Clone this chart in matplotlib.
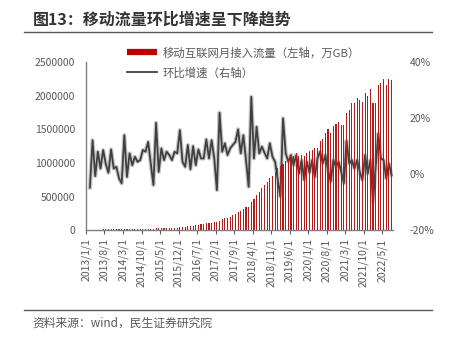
import numpy as np
import matplotlib
matplotlib.use("Agg")
import matplotlib.pyplot as plt
from matplotlib.lines import Line2D

plt.rcParams['font.family'] = ['Noto Sans CJK SC', 'DejaVu Sans']
plt.rcParams['axes.unicode_minus'] = False

# Monthly mobile internet access traffic (万GB), 2013/1 .. 2022/7
traffic = [
    8000, 8900, 8800, 9500, 9700, 10500, 10900, 11000, 11900, 12100,
    12400, 12200, 11800, 13400, 13300, 14300, 14700, 15600, 16300, 17100,
    18500, 20000, 22300, 23100, 22200, 26200, 26400, 28800, 30200, 32600,
    34000, 35000, 36500, 38000, 40000, 50000, 50000, 60000, 64000, 69000,
    74000, 84000, 89000, 89000, 99000, 99000, 109000, 124000, 124000, 139000,
    159000, 174000, 184000, 198000, 218000, 238000, 273000, 283000, 322000, 347000,
    347000, 422000, 456000, 521000, 570000, 620000, 670000, 712000, 782000, 811000,
    868000, 918000, 950000, 985000, 1030000, 1062000, 1096000, 1103000, 1141000, 1108000,
    1116000, 1106000, 1148000, 1171000, 1188000, 1222000, 1215000, 1324000, 1349000, 1448000,
    1498000, 1448000, 1548000, 1577000, 1612000, 1563000, 1563000, 1736000, 1786000, 1885000,
    1885000, 1959000, 1935000, 1910000, 2034000, 1994000, 2093000, 1885000, 1885000, 2158000,
    2192000, 2242000, 2158000, 2242000, 2232000,
]

# Month-on-month growth (%)
mom = [
    -4.8, 12.1, -0.7, 8.0, 2.0, 8.6, 3.6, 0.5, 8.8, 2.0,
    2.6, -1.5, -3.3, 13.9, -1.0, 7.4, 3.2, 6.2, 4.4, 5.0,
    8.6, 8.0, 11.5, 3.8, -3.9, 18.3, 0.8, 9.2, 5.0, 8.0,
    6.8, 5.0, 8.0, 7.4, 15.7, 4.4, 2.6, 10.4, 1.7, 10.0,
    3.2, 8.8, 5.6, 5.6, 12.4, 5.6, 12.1, 5.6, -5.7, 21.9,
    8.0, 11.0, 6.8, 9.2, 10.4, 11.5, 16.0, 7.4, 13.9, 5.0,
    -4.5, 27.6, 5.6, 16.9, 7.4, 9.8, 7.6, 5.6, 11.0, 6.2,
    4.4, -2.1, -8.1, 19.9, 7.4, 4.4, 6.8, 3.2, 6.8, 0.2,
    5.0, -2.1, 4.4, 0.5, 5.0, -1.0, 5.6, 8.0, 3.8, 6.8,
    1.4, -2.7, 5.0, 2.6, 4.4, 0.8, -3.3, 11.9, 3.8, 5.0,
    2.0, 5.0, 0.8, -2.1, 6.8, 0.2, 5.0, -9.9, 2.6, 14.5,
    5.6, 5.0, -1.5, 3.8, -0.4,
]

tick_labels = [
    "2013/1/1", "2013/8/1", "2014/3/1", "2014/10/1", "2015/5/1", "2015/12/1",
    "2016/7/1", "2017/2/1", "2017/9/1", "2018/4/1", "2018/11/1", "2019/6/1",
    "2020/1/1", "2020/8/1", "2021/3/1", "2021/10/1", "2022/5/1",
]

left_ticks = [0, 500000, 1000000, 1500000, 2000000, 2500000]
right_ticks = [-20, 0, 20, 40]

bar_label = "移动互联网月接入流量（左轴，万GB）"
line_label = "环比增速（右轴）"
title = "图13：移动流量环比增速呈下降趋势"
source = "资料来源：wind，民生证券研究院"

grey = "#595959"
red = "#B31B1B"

fig = plt.figure(figsize=(4.5, 3.43), dpi=100)
ax = fig.add_axes([0.191, 0.329, 0.682, 0.490])
x = np.arange(len(traffic))

ax2 = ax.twinx()
ax.set_zorder(ax2.get_zorder() + 1)
ax.patch.set_visible(False)

ax.bar(x, traffic, width=0.42, color=red, linewidth=0, zorder=2)
ax.set_xlim(-1.5, len(traffic) - 0.5)
ax.set_ylim(0, 2500000)
ax.set_yticks(left_ticks)
ax.set_yticklabels([str(v) for v in left_ticks])
ax.set_xticks(np.arange(0, len(traffic), 7) - 1.5)
ax.set_xticklabels(tick_labels, rotation=90, ha="center", va="top")
ax.tick_params(axis="y", length=0, pad=8, labelsize=7.5, colors=grey)
ax.tick_params(axis="x", length=3, width=0.8, direction="out", pad=3,
               labelsize=7.5, colors=grey)
for s in ["top", "right"]:
    ax.spines[s].set_visible(False)
for s in ["left", "bottom"]:
    ax.spines[s].set_color("#7f7f7f")
    ax.spines[s].set_linewidth(1.0)

ax2.plot(x, mom, color="#9a9a9a", lw=3.0, alpha=0.55, solid_joinstyle="round", zorder=3)
ax2.plot(x, mom, color="#404040", lw=1.3, solid_joinstyle="round", zorder=4)
ax2.set_ylim(-20, 40)
ax2.set_yticks(right_ticks)
ax2.set_yticklabels([f"{v}%" for v in right_ticks])
ax2.tick_params(axis="y", length=0, pad=12, labelsize=7.5, colors=grey)
for s in ["top", "right", "left", "bottom"]:
    ax2.spines[s].set_visible(False)

handles = [Line2D([], [], color="#C00000", lw=4.5, solid_capstyle="butt"),
           Line2D([], [], color="#404040", lw=1.3)]
fig.legend(handles, [bar_label, line_label], loc="center left",
           bbox_to_anchor=(0.282, 0.817), frameon=False, fontsize=8.2,
           handlelength=2.6, handletextpad=0.5, labelspacing=0.75,
           labelcolor=grey, borderaxespad=0, borderpad=0)

fig.text(0.073, 0.942, title, fontsize=11.5, fontweight="bold",
         color="#333333", ha="left", va="center")
fig.add_artist(Line2D([0.053, 0.96], [0.906, 0.906], color="#595959", lw=1.0))
fig.add_artist(Line2D([0.053, 0.96], [0.096, 0.096], color="#595959", lw=1.0))
fig.text(0.073, 0.058, source, fontsize=8.5, color=grey, ha="left", va="center")

fig.savefig("out.png", dpi=100)
